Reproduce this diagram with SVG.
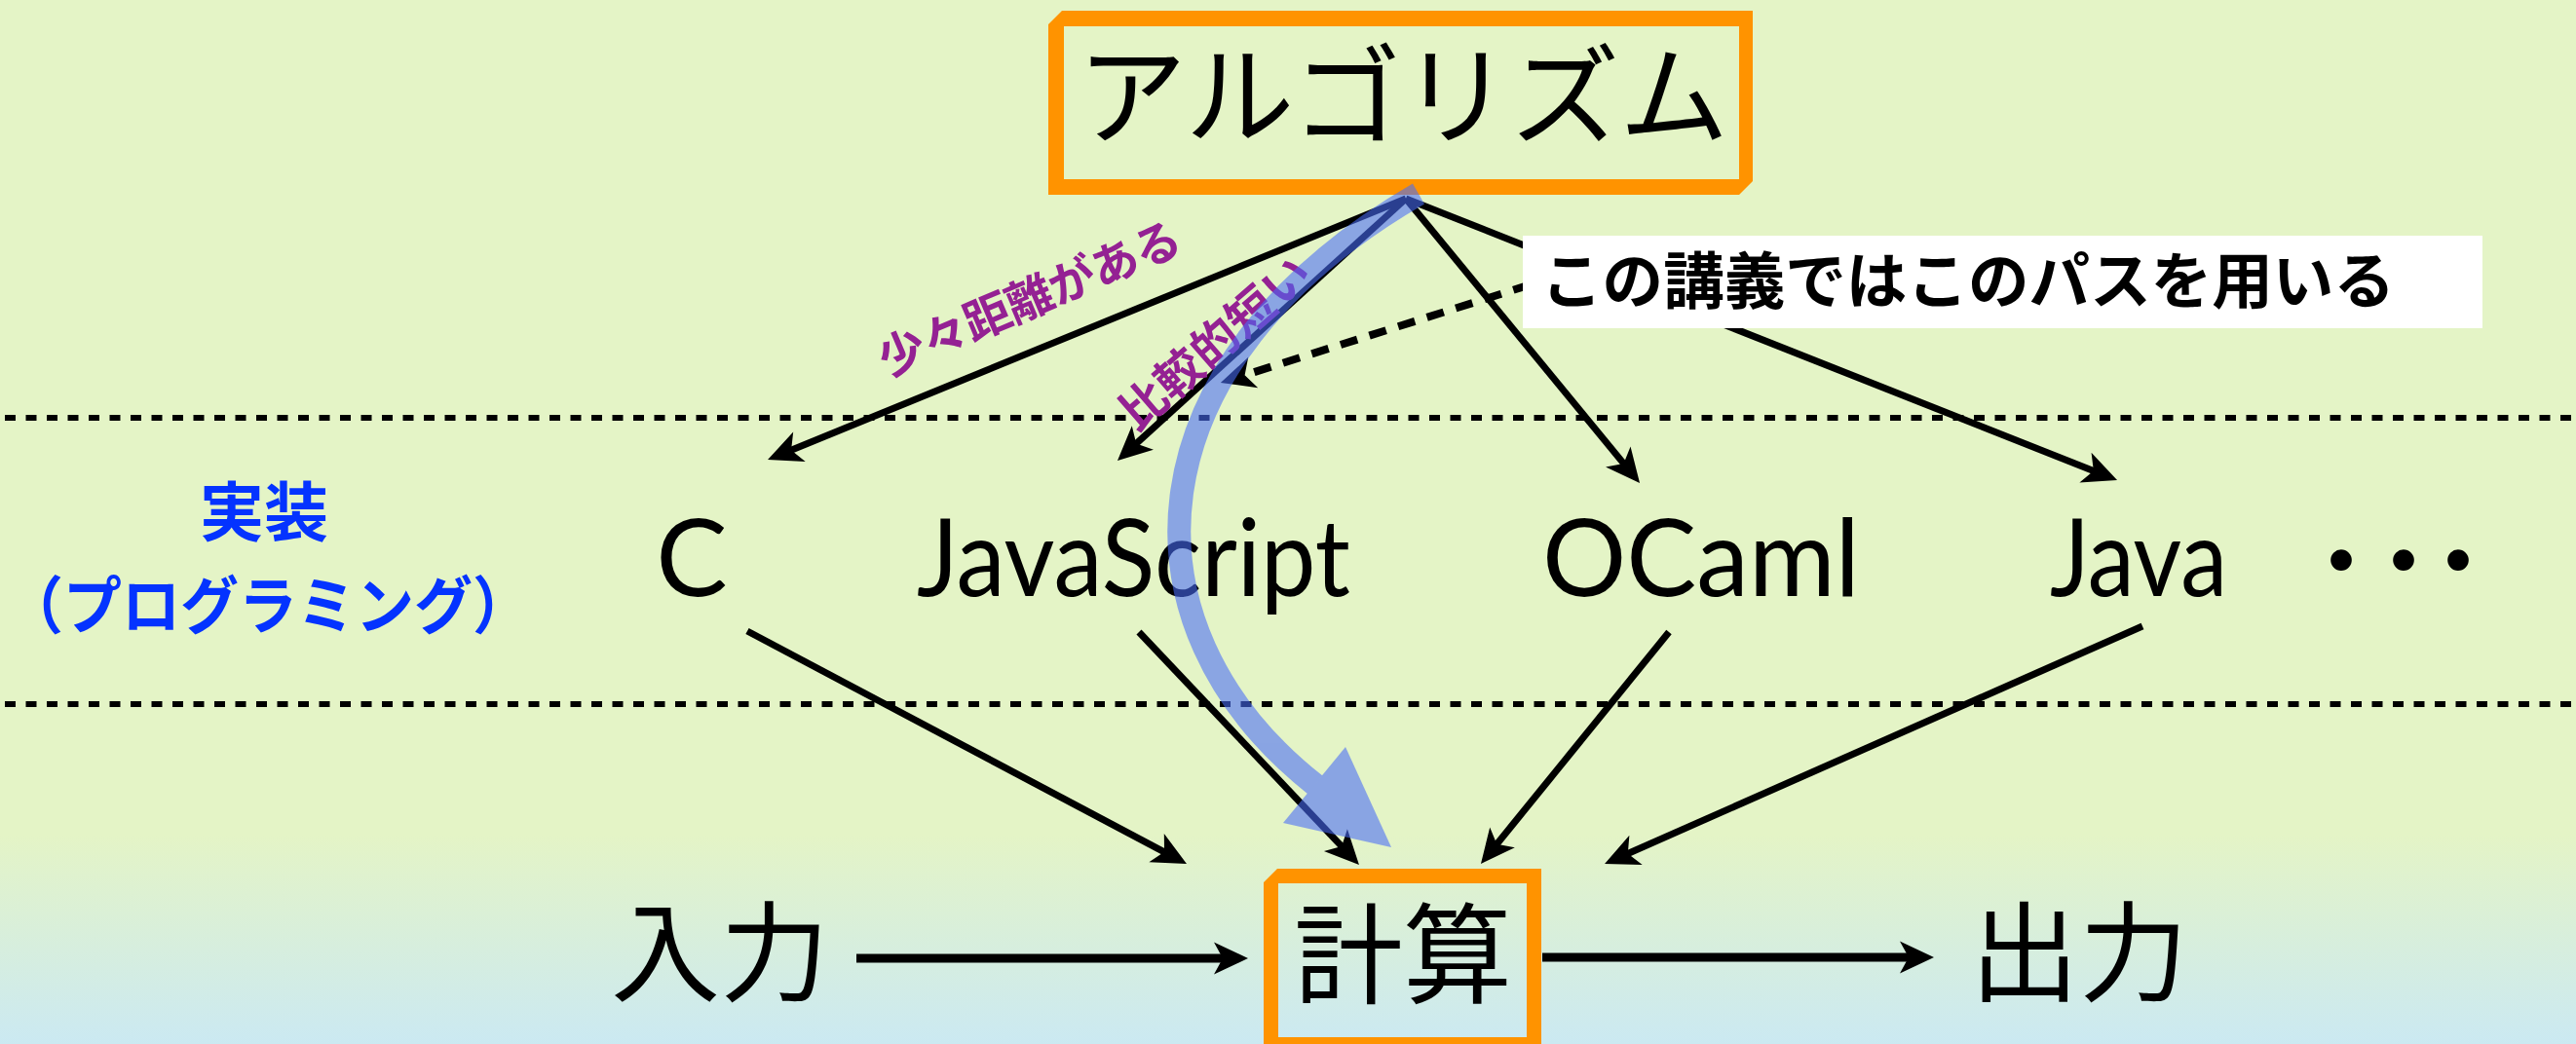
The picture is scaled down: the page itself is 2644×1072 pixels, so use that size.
<svg xmlns="http://www.w3.org/2000/svg" width="2644" height="1072" viewBox="0 0 2644 1072">
<defs>
<linearGradient id="bg" x1="0" y1="0" x2="0" y2="1072" gradientUnits="userSpaceOnUse">
<stop offset="0" stop-color="#e4f4c6"/>
<stop offset="0.8" stop-color="#e4f4c6"/>
<stop offset="1" stop-color="#cbe9f2"/>
</linearGradient>
<marker id="ah" markerUnits="userSpaceOnUse" markerWidth="80" markerHeight="80" viewBox="-40 -40 80 80" refX="0" refY="0" orient="auto" overflow="visible">
<path d="M18,0 L-17,-16.5 L-8,0 L-17,16.5 Z" fill="#000"/>
</marker>
<style>
.ln{stroke:#000;stroke-width:7;fill:none;marker-end:url(#ah)}
.hz{stroke:#000;stroke-width:9;fill:none;marker-end:url(#ah)}
.sep{stroke:#000;stroke-width:6;stroke-dasharray:11 10.5}
.jp{font-family:"Noto Sans CJK JP","Noto Sans CJK SC",sans-serif}
.lat{font-family:Lato,"Noto Sans",sans-serif;font-size:110px;fill:#000}
.box{fill:#ff9300;fill-rule:evenodd}
.pl{font-family:"Noto Sans CJK JP",sans-serif;font-size:48px;font-weight:bold;fill:#942193}
.bl{font-family:"Noto Sans CJK JP",sans-serif;font-weight:bold;fill:#0433ff}
</style>
</defs>
<rect width="2644" height="1072" fill="url(#bg)"/>
<g id="separators">
<line class="sep" x1="5" y1="429" x2="2644" y2="429"/>
<line class="sep" x1="5" y1="723" x2="2644" y2="723"/>
</g>
<g id="connectors">
<line id="e-alg-c" class="ln" x1="1443" y1="204" x2="804.7" y2="465.2"/>
<line id="e-alg-js" class="ln" x1="1443" y1="204" x2="1160.3" y2="460.9"/>
<line id="e-alg-ocaml" class="ln" x1="1443" y1="204" x2="1671.6" y2="482.1"/>
<line id="e-alg-java" class="ln" x1="1443" y1="204" x2="2156.3" y2="486.4"/>
<line id="e-c-calc" class="ln" x1="767" y1="648" x2="1202.1" y2="878.6"/>
<line id="e-js-calc" class="ln" x1="1169" y1="649" x2="1382.6" y2="874.9"/>
<line id="e-ocaml-calc" class="ln" x1="1713" y1="649" x2="1531.3" y2="873"/>
<line id="e-java-calc" class="ln" x1="2199" y1="643" x2="1663.5" y2="879.7"/>
<line id="e-in-calc" class="hz" x1="879" y1="984" x2="1263" y2="984"/>
<line id="e-calc-out" class="hz" x1="1583" y1="983" x2="1967" y2="983"/>
<line id="e-note" x1="1600" y1="283" x2="1270" y2="387.6" stroke="#000" stroke-width="8" stroke-dasharray="18 13" marker-end="url(#ah)"/>
</g>
<g id="label-far">
<text class="pl" transform="translate(1057,307) rotate(-23)" x="0" y="17" text-anchor="middle" textLength="332" lengthAdjust="spacing">少々距離がある</text>
</g>
<g id="label-near">
<text class="pl" transform="translate(1247,352) rotate(-41)" x="0" y="17" text-anchor="middle" textLength="242" lengthAdjust="spacing">比較的短い</text>
</g>
<g id="algorithm">
<path class="box" d="M1090,11 H1799 V186 L1785,200 H1076 V25 Z M1092,27 V184 H1785 V27 Z"/>
<text class="jp" x="1440" y="140" font-size="112" text-anchor="middle">アルゴリズム</text>
</g>
<g id="impl-label">
<text class="bl" x="271" y="550" font-size="66" text-anchor="middle">実装</text>
<text class="bl" x="5" y="645" font-size="64" textLength="540" lengthAdjust="spacingAndGlyphs">（プログラミング）</text>
</g>
<g id="lang-c"><text class="lat" x="710" y="612" text-anchor="middle">C</text></g>
<g id="lang-js"><text class="lat" x="941" y="612" textLength="445" lengthAdjust="spacingAndGlyphs">JavaScript</text></g>
<g id="lang-ocaml"><text class="lat" x="1583" y="612" textLength="326" lengthAdjust="spacingAndGlyphs">OCaml</text></g>
<g id="lang-java"><text class="lat" x="2104" y="612" textLength="182" lengthAdjust="spacingAndGlyphs">Java</text></g>
<g id="lang-more"><text x="2403 2467 2523" y="602" font-family="Liberation Sans,sans-serif" font-size="80" text-anchor="middle">•••</text></g>
<g id="input"><text class="jp" x="739" y="1020" font-size="112" text-anchor="middle">入力</text></g>
<g id="calc">
<path class="box" d="M1311,892 H1582 V1081 H1297 V906 Z M1312,907 V1065 H1567 V907 Z"/>
<text class="jp" x="1440" y="1022" font-size="112" text-anchor="middle">計算</text>
</g>
<g id="output"><text class="jp" x="2134" y="1020" font-size="112" text-anchor="middle">出力</text></g>
<g id="path-highlight" opacity="0.58">
<path d="M1456,199 C1160,370 1140,640 1350,806" fill="none" stroke="#496cf8" stroke-width="24"/>
<polygon points="1381,767 1317,845 1428,870" fill="#496cf8"/>
</g>
<g id="note">
<rect x="1563" y="242" width="985" height="95" fill="#fff"/>
<text class="jp" x="1582" y="311" font-size="63" font-weight="bold" textLength="876" lengthAdjust="spacingAndGlyphs">この講義ではこのパスを用いる</text>
</g>
</svg>
